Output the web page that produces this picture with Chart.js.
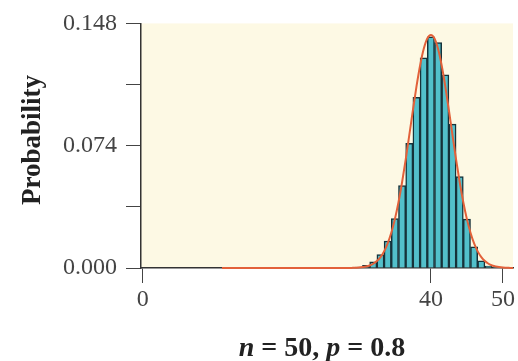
<!DOCTYPE html>
<html lang="en">
<head>
    <meta charset="UTF-8">
    <title>Binomial n = 50, p = 0.8</title>
    <script src="https://cdn.jsdelivr.net/npm/chart.js"></script>
    <style>
        html, body { margin: 0; padding: 0; background: #ffffff; }
        #wrap { width: 518px; height: 361px; }
    </style>
</head>
<body>
    <div id="wrap"><canvas id="binomChart" width="518" height="361"></canvas></div>

    <script>
        // histogram: number of successes k and P(X = k)
        const kValues = [30, 31, 32, 33, 34, 35, 36, 37, 38, 39, 40, 41, 42, 43, 44, 45, 46, 47, 48, 49];
        const probValues = [0.000611, 0.00158, 0.00375, 0.00818, 0.01636, 0.02992, 0.04987, 0.07547, 0.10328, 0.12711,
                            0.13982, 0.13641, 0.11692, 0.08701, 0.05537, 0.02953, 0.01284, 0.004371, 0.001093, 0.000178];

        // normal curve overlay
        const curveX = [11, 26, 28, 29, 30, 31, 31.5, 32, 32.5, 33, 33.5, 34, 34.5, 35, 35.5, 36, 36.5, 37, 37.5, 38, 38.5,
                        39, 39.5, 40, 40.5, 41, 41.5, 42, 42.5, 43, 43.5, 44, 44.5, 45, 45.5, 46, 46.5, 47, 47.5, 48, 48.5,
                        49, 50, 51, 51.4];
        const curveY = [0, 0, 0.000017, 0.000073, 0.000272, 0.000893, 0.001543, 0.002583, 0.004192, 0.006597, 0.01006,
                        0.01487, 0.02129, 0.02957, 0.03979, 0.05189, 0.06559, 0.08037, 0.09544, 0.10985, 0.12255, 0.13250,
                        0.13886, 0.14105, 0.13886, 0.13250, 0.12255, 0.10985, 0.09544, 0.08037, 0.06559, 0.05189, 0.03979,
                        0.02957, 0.02129, 0.01487, 0.01006, 0.006597, 0.004192, 0.002583, 0.001543, 0.000893, 0.000272,
                        0.000073, 0.000042];

        // axis ticks
        const xTicks = [0, 40, 50];
        const yTicks = [0, 0.037, 0.074, 0.111, 0.148];
        const yLabelled = [0, 0.074, 0.148];

        const serif = "'Liberation Serif', 'DejaVu Serif', serif";

        // cream plot background + hand-set axis title and caption
        const decorPlugin = {
            id: 'decor',
            beforeDraw(chart) {
                const { ctx, chartArea } = chart;
                ctx.save();
                ctx.fillStyle = '#fdf9e4';
                ctx.fillRect(chartArea.left, chartArea.top, chartArea.right - chartArea.left, chartArea.bottom - chartArea.top);
                ctx.restore();
            },
            afterDraw(chart) {
                const ctx = chart.ctx;
                ctx.save();
                ctx.fillStyle = '#222';

                // y axis title
                ctx.translate(33, 140);
                ctx.rotate(-Math.PI / 2);
                ctx.font = 'bold 27px ' + serif;
                ctx.textAlign = 'center';
                ctx.textBaseline = 'middle';
                ctx.fillText('Probability', 0, 0);
                ctx.setTransform(1, 0, 0, 1, 0, 0);

                // caption, mixed italic / upright bold
                const parts = [
                    ['n', 'italic bold 28px '],
                    [' = 50, ', 'bold 28px '],
                    ['p', 'italic bold 28px '],
                    [' = 0.8', 'bold 28px ']
                ];
                let total = 0;
                parts.forEach(p => { ctx.font = p[1] + serif; total += ctx.measureText(p[0]).width; });
                let x = 322 - total / 2;
                ctx.textAlign = 'left';
                ctx.textBaseline = 'alphabetic';
                parts.forEach(p => {
                    ctx.font = p[1] + serif;
                    ctx.fillText(p[0], x, 356);
                    x += ctx.measureText(p[0]).width;
                });
                ctx.restore();
            }
        };

        const ctx = document.getElementById('binomChart').getContext('2d');
        const binomChart = new Chart(ctx, {
            type: 'bar',
            data: {
                datasets: [
                    {
                        type: 'line',
                        data: curveX.map((x, i) => ({ x: x, y: curveY[i] })),
                        borderColor: '#e2613a',
                        borderWidth: 2,
                        pointRadius: 0,
                        cubicInterpolationMode: 'monotone',
                        clip: 6,
                        order: 0
                    },
                    {
                        type: 'bar',
                        data: kValues.map((k, i) => ({ x: k, y: probValues[i] })),
                        backgroundColor: '#52c0cb',
                        borderColor: '#16323a',
                        borderWidth: 1.5,
                        barPercentage: 1,
                        categoryPercentage: 1,
                        order: 1
                    }
                ]
            },
            options: {
                responsive: false,
                animation: false,
                events: [],
                layout: { padding: { top: 20, right: 5, left: 0, bottom: 0 } },
                plugins: {
                    legend: { display: false },
                    tooltip: { enabled: false }
                },
                scales: {
                    x: {
                        type: 'linear',
                        offset: false,
                        min: -0.25,
                        max: 51.4,
                        afterBuildTicks: scale => { scale.ticks = xTicks.map(v => ({ value: v })); },
                        afterFit: scale => { scale.height = 93; },
                        border: { color: '#333', width: 1.5 },
                        grid: { drawOnChartArea: false, drawTicks: true, tickLength: 15, color: '#444', offset: false },
                        ticks: {
                            font: { family: serif, size: 24 },
                            color: '#444',
                            padding: 2,
                            maxRotation: 0,
                            callback: v => String(v)
                        }
                    },
                    y: {
                        min: 0,
                        max: 0.148,
                        afterBuildTicks: scale => { scale.ticks = yTicks.map(v => ({ value: v })); },
                        afterFit: scale => { scale.width = 141; },
                        border: { color: '#333', width: 1.5 },
                        grid: { drawOnChartArea: false, drawTicks: true, tickLength: 15, color: '#444' },
                        ticks: {
                            font: { family: serif, size: 24 },
                            color: '#444',
                            padding: 9,
                            callback: v => yLabelled.some(t => Math.abs(t - v) < 1e-9) ? v.toFixed(3) : ''
                        }
                    }
                }
            },
            plugins: [decorPlugin]
        });
    </script>
</body>
</html>
